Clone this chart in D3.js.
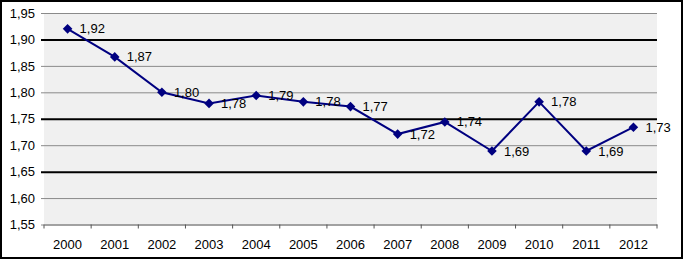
<!DOCTYPE html>
<html>
<head>
<meta charset="utf-8">
<script src="https://cdn.jsdelivr.net/npm/d3@7"></script>
<style>
  body { margin: 0; background: #fff; }
  svg text { font-family: "Liberation Sans", Arial, sans-serif; font-size: 13px; fill: #000; }
</style>
</head>
<body>
<div class="lineChart"></div>
<script>
// data
const years = ["2000","2001","2002","2003","2004","2005","2006","2007","2008","2009","2010","2011","2012"];
const values = [1.92, 1.867, 1.80, 1.779, 1.794, 1.782, 1.773, 1.721, 1.744, 1.689, 1.782, 1.689, 1.734];
const yTicks = [1.55, 1.60, 1.65, 1.70, 1.75, 1.80, 1.85, 1.90, 1.95];
// the darker gridlines in the picture
const darkLines = [1.65, 1.75, 1.90];

const W = 684, H = 260;
const margin = {top: 13, right: 27, bottom: 35.5, left: 44};
const width = W - margin.left - margin.right,
      height = H - margin.top - margin.bottom;

const comma = v => d3.format(".2f")(v).replace(".", ",");

const svg = d3.select(".lineChart")
  .append("svg")
  .attr("width", W)
  .attr("height", H);

// outer frame
svg.append("rect")
  .attr("x", 1).attr("y", 1)
  .attr("width", W - 3).attr("height", H - 3)
  .attr("fill", "#fff")
  .attr("stroke", "#000")
  .attr("stroke-width", 2);

const g = svg.append("g")
  .attr("transform", `translate(${margin.left}, ${margin.top})`);

const x = d3.scaleBand().domain(years).range([0, width]);
const y = d3.scaleLinear().domain([1.55, 1.95]).range([height, 0]);

// plot area
g.append("rect")
  .attr("width", width).attr("height", height)
  .attr("fill", "#f0f0f0");

// gridlines + y labels
const yAxis = g.append("g")
  .call(d3.axisLeft(y).tickValues(yTicks).tickFormat(comma).tickSize(-width).tickPadding(9))
  .call(a => a.select(".domain").remove());
yAxis.selectAll(".tick line")
  .attr("x1", -3)
  .attr("stroke", d => darkLines.includes(d) ? "#000" : "#8a8a8a")
  .attr("stroke-width", d => darkLines.includes(d) ? 2 : 1);
yAxis.selectAll(".tick text")
  .attr("font-size", 13).attr("font-family", null).attr("fill", "#000");

// x axis: ticks between categories
const xAxis = g.append("g")
  .attr("transform", `translate(0, ${height})`)
  .call(d3.axisBottom(x).tickSize(0).tickPadding(15));
xAxis.select(".domain").attr("stroke", "#808080");
xAxis.selectAll(".tick text").attr("font-size", 13).attr("font-family", null);

const edges = years.map(d => x(d)).concat([width]);
xAxis.selectAll(".sep")
  .data(edges)
  .join("line")
  .attr("class", "sep")
  .attr("x1", d => d).attr("x2", d => d)
  .attr("y1", 0).attr("y2", 4)
  .attr("stroke", "#555");

const cx = d => x(d) + x.bandwidth() / 2;

// line
const line = d3.line()
  .x((d, i) => cx(years[i]))
  .y(d => y(d));

g.append("path")
  .datum(values)
  .attr("fill", "none")
  .attr("stroke", "#000080")
  .attr("stroke-width", 2)
  .attr("d", line);

// diamond markers (square turned 45deg)
const diamond = d3.symbol().type(d3.symbolSquare).size(46);
g.selectAll(".pt")
  .data(values)
  .join("path")
  .attr("class", "pt")
  .attr("transform", (d, i) => `translate(${cx(years[i])}, ${y(d)}) rotate(45)`)
  .attr("d", diamond)
  .attr("fill", "#000080");

// value labels
g.selectAll(".lbl")
  .data(values)
  .join("text")
  .attr("class", "lbl")
  .attr("x", (d, i) => cx(years[i]) + 12)
  .attr("y", d => y(d) + 4.5)
  .text(d => comma(d));
</script>
</body>
</html>
